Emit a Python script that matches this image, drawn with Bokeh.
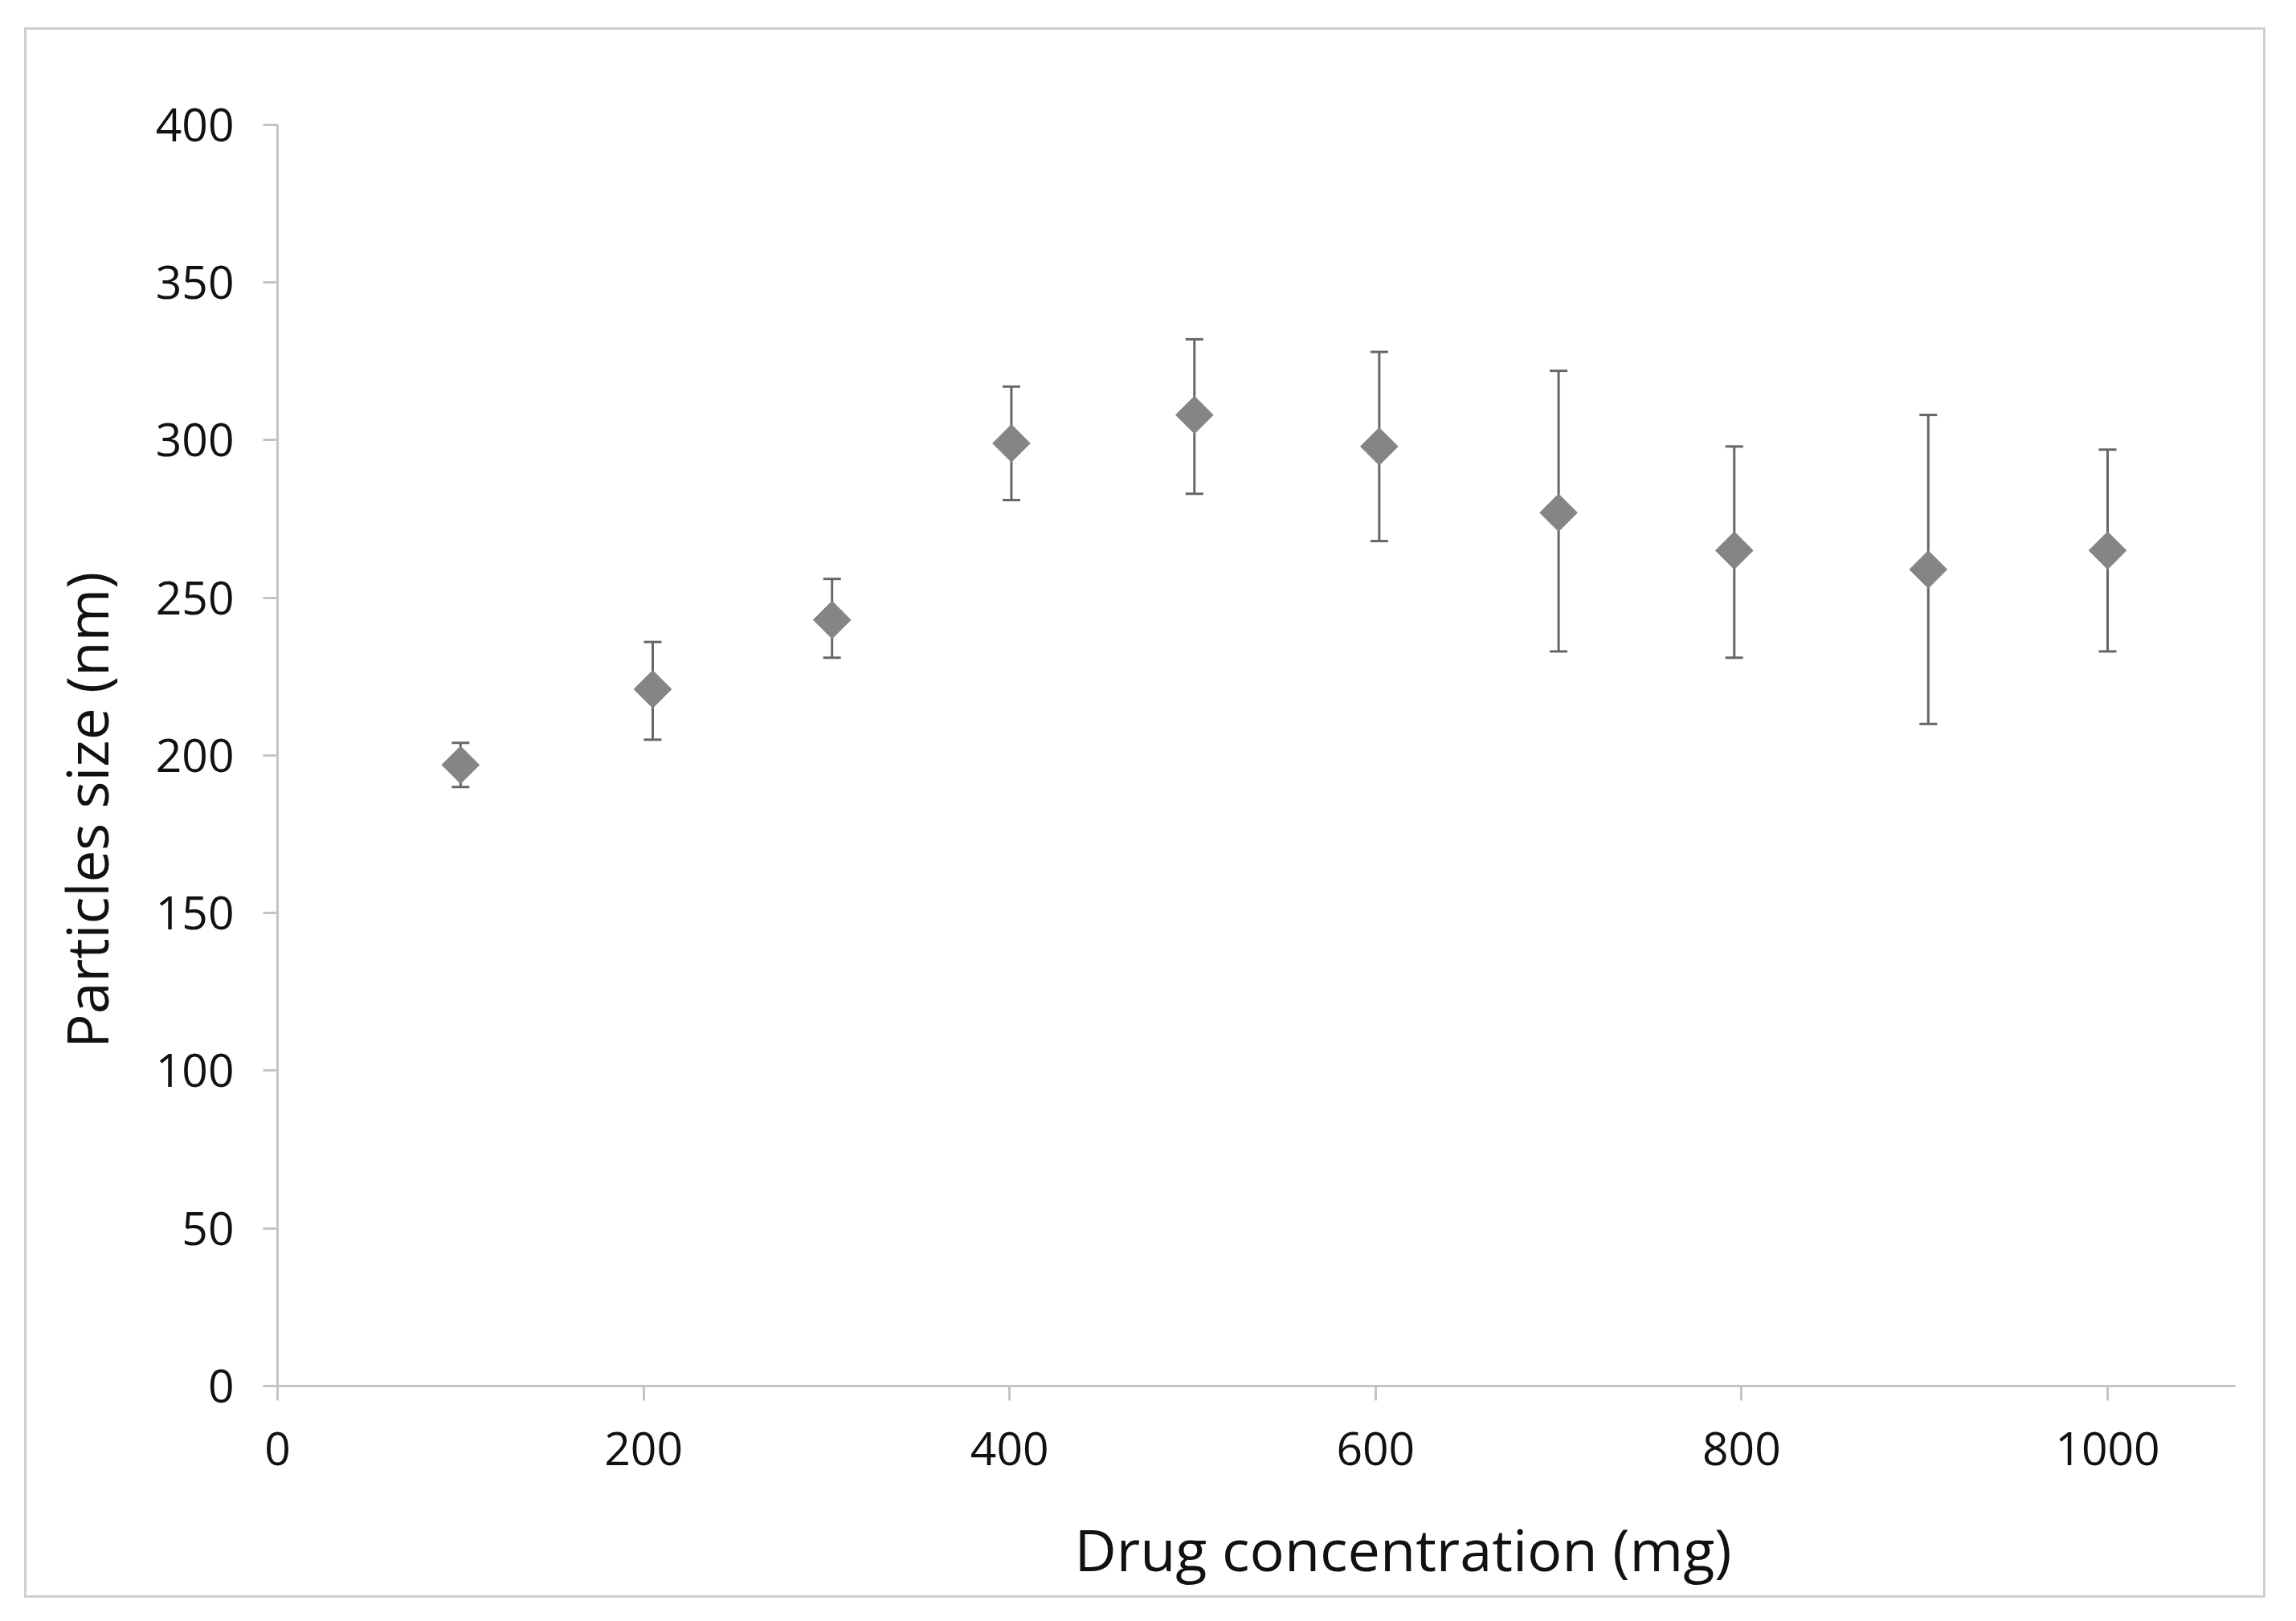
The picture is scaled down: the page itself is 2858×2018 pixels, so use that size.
import numpy as np
from bokeh.plotting import figure
from bokeh.models import (ColumnDataSource, Range1d, FixedTicker, Whisker, TeeHead, Label)
from bokeh.embed import file_html
from bokeh.resources import INLINE

# ---- data ----
concentration = [100, 205, 303, 401, 501, 602, 700, 796, 902, 1000]
particle_size = [197, 221, 243, 299, 308, 298, 277, 265, 259, 265]
size_upper = [204, 236, 256, 317, 332, 328, 322, 298, 308, 297]
size_lower = [190, 205, 231, 281, 283, 268, 233, 231, 210, 233]

x_ticks = [0, 200, 400, 600, 800, 1000]
y_ticks = [0, 50, 100, 150, 200, 250, 300, 350, 400]

x_label = "Drug concentration (mg)"
y_label = "Particles size (nm)"

FONT = "Open Sans"
AXIS_GRAY = "#c4c4c4"
MARK_GRAY = "#858585"
BAR_GRAY = "#666666"

src = ColumnDataSource(dict(x=concentration, y=particle_size,
                            upper=size_upper, lower=size_lower))

# the frame covers the whole canvas; the axes sit at x=0 / y=0 inside it
p = figure(width=2790, height=1955, output_backend="svg", toolbar_location=None,
           x_range=Range1d(-136.96, 1087.8), y_range=Range1d(-68.03, 430.06),
           min_border_left=0, min_border_right=0,
           min_border_top=0, min_border_bottom=0)
p.margin = (34, 0, 0, 30)
p.styles = {"border": "3px solid #cfcfcf"}

p.outline_line_color = None
p.xgrid.visible = False
p.ygrid.visible = False
p.background_fill_color = "white"
p.border_fill_color = "white"

for ax, ticks, bnds in ((p.xaxis[0], x_ticks, (0, 1070)), (p.yaxis[0], y_ticks, (0, 400))):
    ax.fixed_location = 0
    ax.bounds = bnds
    ax.ticker = FixedTicker(ticks=ticks)
    ax.axis_line_color = AXIS_GRAY
    ax.axis_line_width = 3
    ax.major_tick_line_color = AXIS_GRAY
    ax.major_tick_line_width = 3
    ax.major_tick_out = 18
    ax.major_tick_in = 0
    ax.minor_tick_line_color = None
    ax.major_label_text_font = FONT
    ax.major_label_text_font_size = "57px"
    ax.major_label_text_color = "#111111"

p.xaxis[0].major_label_standoff = 40
p.yaxis[0].major_label_standoff = 36

whisk = Whisker(base="x", upper="upper", lower="lower", source=src,
                line_color=BAR_GRAY, line_width=3, level="underlay",
                upper_head=TeeHead(size=22, line_color=BAR_GRAY, line_width=3),
                lower_head=TeeHead(size=22, line_color=BAR_GRAY, line_width=3))
p.add_layout(whisk)

p.scatter("x", "y", source=src, marker="square", angle=np.pi / 4, size=33,
          fill_color=MARK_GRAY, line_color=MARK_GRAY)

# axis titles placed as in the reference (off-centre from the plot area)
p.add_layout(Label(x=615, y=-51.7, text=x_label, text_font=FONT,
                   text_font_size="72px", text_align="center",
                   text_baseline="alphabetic", text_color="#111111"))
p.add_layout(Label(x=-104.5, y=182.7, text=y_label, text_font=FONT,
                   text_font_size="71px", angle=np.pi / 2, text_align="center",
                   text_baseline="alphabetic", text_color="#111111"))

open("out.html", "w").write(file_html(p, INLINE))
